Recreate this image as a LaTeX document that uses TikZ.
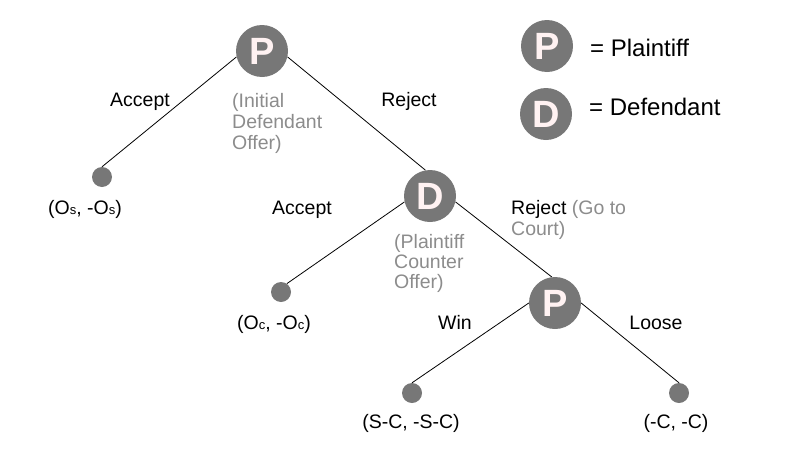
\documentclass[tikz,border=0pt]{standalone}
\usepackage{fontspec}
\setmainfont{Liberation Sans}
\usetikzlibrary{backgrounds}
\definecolor{nodegrey}{HTML}{777777}
\definecolor{lettercol}{HTML}{FFF2F2}
\definecolor{notegrey}{HTML}{8C8C8C}
\newcommand{\sml}[1]{{\fontsize{13}{13}\selectfont #1}}
\tikzset{
  decision/.style={circle, fill=nodegrey, minimum size=52pt, inner sep=0pt,
    text=lettercol, font=\fontsize{38}{38}\selectfont\bfseries},
  leaf/.style={circle, fill=nodegrey, minimum size=20pt, inner sep=0pt},
  lbl/.style={font=\fontsize{19.5}{21}\selectfont, inner sep=0pt, anchor=base},
  note/.style={font=\fontsize{19.5}{20.5}\selectfont, inner sep=0pt, anchor=base west, text=notegrey, align=left},
  legtxt/.style={font=\fontsize{24}{26}\selectfont, inner sep=0pt, anchor=base west},
  edge/.style={draw=black, line width=0.8pt}
}
\begin{document}
\begin{tikzpicture}[x=1pt,y=-1pt]
\useasboundingbox (0,0) rectangle (800,450);
% decision nodes
\node[decision] (P1) at (262,51) {P};
\node[decision] (D) at (430,196) {D};
\node[decision] (P2) at (555,303) {P};
% leaves
\node[leaf] (l1) at (102,177) {};
\node[leaf] (l2) at (281,292) {};
\node[leaf] (l3) at (412,393) {};
\node[leaf] (l4) at (679,393) {};
% edges
\begin{scope}[on background layer]
\draw[edge] (P1.193) -- (l1.north);
\draw[edge] (P1.-13) -- (D.100);
\draw[edge] (D.193) -- (l2.55);
\draw[edge] (D.-13) -- (P2.97);
\draw[edge] (P2.180) -- (l3.north);
\draw[edge] (P2.0) -- (l4.north);
\end{scope}
% edge labels
\node[lbl] (a1) at (140,106) {Accept};
\node[lbl] (r1) at (409,106) {Reject};
\node[lbl] (a2) at (302,214) {Accept};
\node[lbl, anchor=base west] (r2) at (511,214) {Reject \textcolor{notegrey}{(Go to}};
\node[note] (r2b) at (511,235) {Court)};
\node[lbl] (w) at (455,329) {Win};
\node[lbl] (lo) at (656,329) {Loose};
% notes (base anchor = last line)
\node[note, font=\fontsize{19.5}{21}\selectfont] (n1) at (232,149) {(Initial\\Defendant\\Offer)};
\node[note, font=\fontsize{19.5}{20}\selectfont] (n2) at (394,288) {(Plaintiff\\Counter\\Offer)};
% payoffs
\node[lbl] (p1) at (85,214) {(O\sml{s}, -O\sml{s})};
\node[lbl] (p2) at (274,329) {(O\sml{c}, -O\sml{c})};
\node[lbl] (p3) at (411,428) {(S-C, -S-C)};
\node[lbl] (p4) at (676,428) {(-C, -C)};
% legend
\node[decision] (LP) at (547,46) {P};
\node[decision] (LD) at (546,114) {D};
\node[legtxt] (LPt) at (590,56) {= Plaintiff};
\node[legtxt] (LDt) at (589,115) {= Defendant};
\end{tikzpicture}
\end{document}
